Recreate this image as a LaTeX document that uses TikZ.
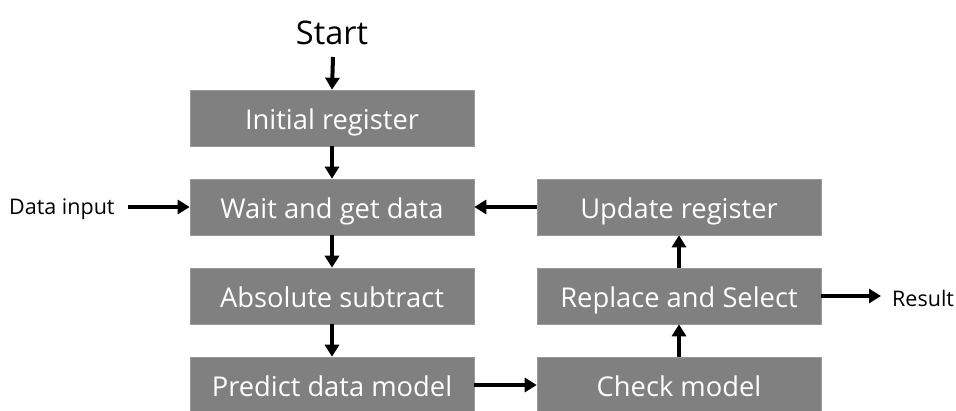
\documentclass[tikz,border=0pt]{standalone}
\usepackage{fontspec}
\setmainfont{Open Sans}
\usetikzlibrary{arrows.meta}
\begin{document}
\begin{tikzpicture}[x=1pt,y=-1pt,
  box/.style={fill=black!50, draw=black!40, line width=0.6pt, minimum width=284pt, minimum height=56pt, inner sep=0pt, text=white, text height=25pt, text depth=3pt, font=\fontsize{27.3}{32}\selectfont},
  lbl/.style={inner sep=0pt, font=\fontsize{21.5}{25}\selectfont},
  arr/.style={line width=4pt, -{Triangle[length=12pt,width=14pt]}}]
\useasboundingbox (0,0) rectangle (956,410);
\clip (0,0) rectangle (956,410);
\node[inner sep=0pt, font=\fontsize{32.5}{38}\selectfont] (start) at (332,33) {Start};
\node[box] (init) at (332,118) {Initial register};
\node[box] (wait) at (332,207) {Wait and get data};
\node[box] (abs) at (332,296) {Absolute subtract};
\node[box] (pred) at (332,385) {Predict data model};
\node[box] (upd) at (679,207) {Update register};
\node[box] (rep) at (679,296) {Replace and Select};
\node[box] (chk) at (679,385) {Check model};
\node[lbl, anchor=west] (din) at (9,209) {Data input};
\node[lbl, anchor=west] (res) at (892,298) {Result};
\coordinate (s0) at (333,57);
\coordinate (d0) at (128,207);
\coordinate (r1) at (881,296);
\draw[arr] (s0) -- (init.north);
\draw[arr] (init.south) -- (wait.north);
\draw[arr] (wait.south) -- (abs.north);
\draw[arr] (abs.south) -- (pred.north);
\draw[arr] (d0) -- (wait.west);
\draw[arr] (upd.west) -- (wait.east);
\draw[arr] (pred.east) -- (chk.west);
\draw[arr] (chk.north) -- (rep.south);
\draw[arr] (rep.north) -- (upd.south);
\draw[arr] (rep.east) -- (r1);
\end{tikzpicture}
\end{document}
